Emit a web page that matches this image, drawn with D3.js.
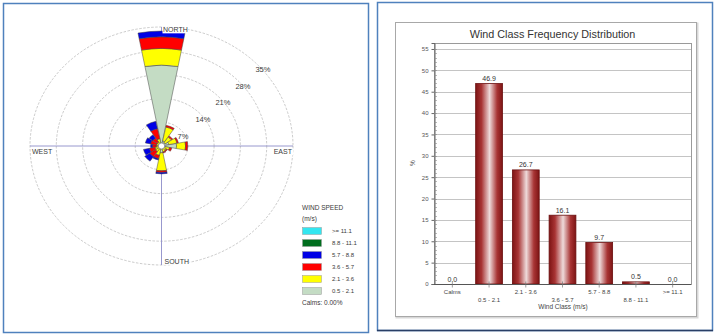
<!DOCTYPE html>
<html>
<head>
<meta charset="utf-8">
<script src="https://cdn.jsdelivr.net/npm/d3@7"></script>
<style>
  html, body { margin: 0; padding: 0; background: #fff; }
  svg { display: block; font-family: "Liberation Sans", Arial, sans-serif; }
</style>
</head>
<body>
<svg id="chart" width="716" height="336"></svg>
<script>
// ---- Wind rose data: frequency (%) per direction for each speed class ----
const directions = ["N","NNE","NE","ENE","E","ESE","SE","SSE","S","SSW","SW","WSW","W","WNW","NW","NNW"];
const speedClasses = ["0.5 - 2.1", "2.1 - 3.6", "3.6 - 5.7", "5.7 - 8.8", "8.8 - 11.1", ">= 11.1"];
const speedColors = ["#c4dcc4", "#ffff00", "#ff0000", "#0000e6", "#006e1e", "#33e6f0"];
const rose05to21  = [23.8, 1.5, 1.2, 2.0, 4.0, 1.0, 0.8, 0.8, 2.0, 1.0, 0.8, 0.8, 0.6, 0.6, 0.6, 1.0];
const rose21to36  = [ 4.9, 4.2, 2.0, 2.2, 2.4, 1.2, 0.8, 1.0, 5.3, 1.8, 1.2, 1.0, 0.8, 0.8, 0.8, 1.2];
const rose36to57  = [ 3.4, 0.5, 0.4, 0.4, 0.6, 0.6, 0.3, 0.3, 0.5, 1.0, 1.8, 1.5, 1.0, 1.6, 1.4, 3.0];
const rose57to88  = [ 1.7, 0.0, 0.0, 0.0, 0.0, 0.0, 0.0, 0.0, 0.4, 0.4, 1.6, 1.6, 0.5, 1.4, 1.2, 2.2];
const rose88to111 = [ 0.0, 0.0, 0.0, 0.0, 0.0, 0.0, 0.0, 0.0, 0.0, 0.0, 0.0, 0.0, 0.0, 0.0, 0.0, 0.0];
const rose111up   = [ 0.0, 0.0, 0.0, 0.0, 0.0, 0.0, 0.0, 0.0, 0.0, 0.0, 0.0, 0.0, 0.0, 0.0, 0.0, 0.0];
const ringValues = [7, 14, 21, 28, 35];
const ringLabels = ["7%", "14%", "21%", "28%", "35%"];
const compassLabels = ["NORTH", "EAST", "SOUTH", "WEST"];
const calmsText = "Calms: 0.00%";

// ---- Wind class frequency distribution ----
const windClasses = ["Calms", "0.5 - 2.1", "2.1 - 3.6", "3.6 - 5.7", "5.7 - 8.8", "8.8 - 11.1", ">= 11.1"];
const classFrequency = [0.0, 46.9, 26.7, 16.1, 9.7, 0.5, 0.0];
const yTicks = [0, 5, 10, 15, 20, 25, 30, 35, 40, 45, 50, 55];

const svg = d3.select("#chart");
const textColor = "#3a3a3a";

// ===== panel frames =====
svg.append("rect").attr("x", 3.5).attr("y", 3.5).attr("width", 365).attr("height", 329)
  .attr("fill", "#fff").attr("stroke", "#4f81bd").attr("stroke-width", 1.5);
svg.append("rect").attr("x", 377.5).attr("y", 2.5).attr("width", 335).attr("height", 328)
  .attr("fill", "#fff").attr("stroke", "#4f81bd").attr("stroke-width", 1.5);
svg.append("line").attr("x1", 377).attr("x2", 713).attr("y1", 330.5).attr("y2", 330.5)
  .attr("stroke", "#2a3f66").attr("stroke-width", 1.5);

// ===== wind rose =====
const cx = 161.5, cy = 146;
const rX = d3.scaleLinear().domain([0, 35]).range([0, 131.5]);
const yRatio = 119 / 131.5;
const rY = d3.scaleLinear().domain([0, 35]).range([0, 131.5 * yRatio]);

const roseTable = directions.map((d, i) => ({
  dir: d, i,
  c0: rose05to21[i], c1: rose21to36[i], c2: rose36to57[i],
  c3: rose57to88[i], c4: rose88to111[i], c5: rose111up[i]
}));
const stackKeys = ["c0", "c1", "c2", "c3", "c4", "c5"];
const stacked = d3.stack().keys(stackKeys)(roseTable);

const rose = svg.append("g").attr("transform", `translate(${cx},${cy}) scale(1,${yRatio})`);

// rings
rose.selectAll("circle.ring").data(ringValues).join("circle")
  .attr("class", "ring").attr("r", d => rX(d))
  .attr("fill", "none").attr("stroke", "#a8a8a8").attr("stroke-width", 0.6)
  .attr("stroke-dasharray", "2.5,1.5").attr("vector-effect", "non-scaling-stroke");

// compass axes
rose.append("line").attr("x1", -rX(35)).attr("x2", rX(35)).attr("y1", 0).attr("y2", 0)
  .attr("stroke", "#8c8cc8").attr("stroke-width", 0.9).attr("vector-effect", "non-scaling-stroke");
rose.append("line").attr("x1", 0).attr("x2", 0).attr("y1", -rX(35)).attr("y2", rX(35))
  .attr("stroke", "#8c8cc8").attr("stroke-width", 0.9).attr("vector-effect", "non-scaling-stroke");

// petals
const sector = 2 * Math.PI / directions.length;
const arc = d3.arc();
stacked.forEach((layer, k) => {
  rose.append("g").selectAll("path").data(layer.filter(s => s[1] - s[0] > 0)).join("path")
    .attr("d", s => arc({
      innerRadius: rX(s[0]), outerRadius: rX(s[1]),
      startAngle: s.data.i * sector - sector / 2 + 0.01,
      endAngle: s.data.i * sector + sector / 2 - 0.01
    }))
    .attr("fill", speedColors[k])
    .attr("stroke", "#444").attr("stroke-width", 0.5)
    .attr("vector-effect", "non-scaling-stroke");
});

// calm circle
rose.append("circle").attr("r", 3.2).attr("fill", "#fff")
  .attr("stroke", "#777").attr("stroke-width", 0.6).attr("vector-effect", "non-scaling-stroke");

// ring labels
svg.append("g").selectAll("text").data(ringValues).join("text")
  .attr("x", d => cx + rX(d) * 0.76 + 1.5)
  .attr("y", d => cy - rY(d) * 0.704 + 7.75)
  .attr("text-anchor", "middle").attr("dominant-baseline", "middle")
  .attr("font-size", 7.5).attr("fill", textColor)
  .text((d, i) => ringLabels[i]);

// compass labels
const outerX = rX(35), outerY = rY(35);
const compassPos = [
  { x: cx + 1.5, y: cy - outerY + 3.5, anchor: "start" },
  { x: cx + outerX - 1, y: cy + 6.5, anchor: "end" },
  { x: cx + 3, y: cy + outerY - 3, anchor: "start" },
  { x: cx - outerX + 2, y: cy + 6.5, anchor: "start" }
];
const compassG = svg.append("g");
compassLabels.forEach((t, i) => {
  const p = compassPos[i];
  const txt = compassG.append("text").attr("x", p.x).attr("y", p.y)
    .attr("text-anchor", p.anchor).attr("dominant-baseline", "middle")
    .attr("font-size", 7).attr("fill", textColor).text(t);
  const bb = txt.node().getBBox();
  compassG.insert("rect", "text").attr("x", bb.x - 0.5).attr("y", bb.y)
    .attr("width", bb.width + 1).attr("height", bb.height).attr("fill", "#fff");
});

// legend
const legend = svg.append("g").attr("transform", "translate(302,0)");
legend.append("text").attr("x", 0).attr("y", 208).attr("dominant-baseline", "middle")
  .attr("font-size", 6.5).attr("fill", textColor).text("WIND SPEED");
legend.append("text").attr("x", 0).attr("y", 219.5).attr("dominant-baseline", "middle")
  .attr("font-size", 6.5).attr("fill", textColor).text("(m/s)");
const legendOrder = d3.range(speedClasses.length).reverse();
legendOrder.forEach((k, row) => {
  const y = 231 + row * 12;
  legend.append("rect").attr("x", 0.5).attr("y", y - 3.5).attr("width", 19).attr("height", 7)
    .attr("fill", speedColors[k]).attr("stroke", "#999").attr("stroke-width", 0.5);
  legend.append("text").attr("x", 30).attr("y", y).attr("dominant-baseline", "middle")
    .attr("font-size", 6).attr("fill", textColor).text(speedClasses[k]);
});
legend.append("text").attr("x", 0).attr("y", 303).attr("dominant-baseline", "middle")
  .attr("font-size", 6.5).attr("fill", textColor).text(calmsText);

// ===== bar chart =====
// outer chart frame
svg.append("rect").attr("x", 396.5).attr("y", 23.5).attr("width", 301).attr("height", 294)
  .attr("fill", "none").attr("stroke", "#d8d8d8").attr("stroke-width", 2);
svg.append("rect").attr("x", 395.5).attr("y", 22.5).attr("width", 301).attr("height", 294)
  .attr("fill", "#fff").attr("stroke", "#a8a8a8").attr("stroke-width", 1);

svg.append("text").attr("x", 552.5).attr("y", 35.5)
  .attr("text-anchor", "middle").attr("dominant-baseline", "middle")
  .attr("font-size", 10.8).attr("fill", "#333").text("Wind Class Frequency Distribution");

const plot = { left: 434, right: 691, top: 43, bottom: 284 };
const x = d3.scaleBand().domain(windClasses).range([plot.left, plot.right]).paddingInner(0.27).paddingOuter(0.135);
const y = d3.scaleLinear().domain([0, 56.4]).range([plot.bottom, plot.top]);

// gradient for the bars
const defs = svg.append("defs");
const grad = defs.append("linearGradient").attr("id", "barGrad").attr("x1", "0%").attr("x2", "100%");
[["0%", "#7d1414"], ["22%", "#a83434"], ["52%", "#eedada"], ["80%", "#a83434"], ["100%", "#7d1414"]]
  .forEach(([o, c]) => grad.append("stop").attr("offset", o).attr("stop-color", c));

// gridlines
svg.append("g").selectAll("line").data(yTicks.filter(t => t > 0)).join("line")
  .attr("x1", plot.left).attr("x2", plot.right)
  .attr("y1", d => Math.round(y(d)) + 0.5).attr("y2", d => Math.round(y(d)) + 0.5)
  .attr("stroke", "#c4c4c4").attr("stroke-width", 1);

// plot box
svg.append("rect").attr("x", plot.left + 0.5).attr("y", plot.top + 0.5)
  .attr("width", plot.right - plot.left).attr("height", plot.bottom - plot.top)
  .attr("fill", "none").attr("stroke", "#9a9a9a").attr("stroke-width", 1);

// y axis with minor ticks
const yAxis = d3.axisLeft(y).tickValues(yTicks).tickSize(3).tickPadding(3).tickFormat(d3.format("d"));
const yG = svg.append("g").attr("transform", `translate(${plot.left + 0.5},0)`).call(yAxis);
yG.select(".domain").attr("stroke", "#666");
yG.selectAll(".tick line").attr("stroke", "#666");
yG.selectAll(".tick text").attr("font-size", 6).attr("fill", "#555").attr("font-family", "Liberation Sans, Arial, sans-serif");
svg.append("g").selectAll("line").data(d3.range(0, 56)).join("line")
  .attr("x1", plot.left).attr("x2", plot.left + 3)
  .attr("y1", d => Math.round(y(d)) + 0.5).attr("y2", d => Math.round(y(d)) + 0.5)
  .attr("stroke", "#888").attr("stroke-width", 0.6);

svg.append("text").attr("transform", `translate(413,163) rotate(-90)`)
  .attr("text-anchor", "middle").attr("dominant-baseline", "middle")
  .attr("font-size", 6.5).attr("fill", "#444").text("%");

// bars
svg.append("g").selectAll("rect").data(classFrequency).join("rect")
  .attr("x", (d, i) => x(windClasses[i]))
  .attr("y", d => y(d))
  .attr("width", x.bandwidth())
  .attr("height", d => y(0) - y(d))
  .attr("fill", "url(#barGrad)")
  .attr("stroke", "#6a0e0e").attr("stroke-width", 0.8);

// value labels
svg.append("g").selectAll("text").data(classFrequency).join("text")
  .attr("x", (d, i) => x(windClasses[i]) + x.bandwidth() / 2)
  .attr("y", d => y(d) - 2.5)
  .attr("text-anchor", "middle").attr("font-size", 7).attr("fill", "#333")
  .text(d => d3.format(".1f")(d));

// x axis
const xG = svg.append("g").attr("transform", `translate(0,${plot.bottom + 0.5})`);
xG.append("line").attr("x1", plot.left).attr("x2", plot.right).attr("stroke", "#555");
xG.selectAll("line.tk").data(windClasses).join("line").attr("class", "tk")
  .attr("x1", d => x(d) + x.bandwidth() / 2).attr("x2", d => x(d) + x.bandwidth() / 2)
  .attr("y1", -3).attr("y2", 3).attr("stroke", "#777").attr("stroke-width", 0.7);
xG.selectAll("text").data(windClasses).join("text")
  .attr("x", d => x(d) + x.bandwidth() / 2)
  .attr("y", (d, i) => i % 2 === 0 ? 8 : 16)
  .attr("text-anchor", "middle").attr("dominant-baseline", "middle")
  .attr("font-size", 6).attr("fill", "#444").text(d => d);

svg.append("text").attr("x", 563).attr("y", 307.5)
  .attr("text-anchor", "middle").attr("dominant-baseline", "middle")
  .attr("font-size", 6.5).attr("fill", "#444").text("Wind Class (m/s)");
</script>
</body>
</html>
